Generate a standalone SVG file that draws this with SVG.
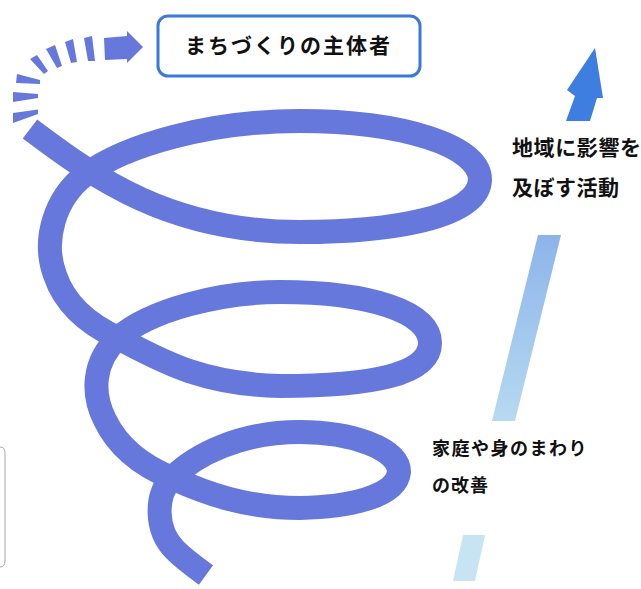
<svg xmlns="http://www.w3.org/2000/svg" width="641" height="589" viewBox="0 0 641 589">
  <defs>
    <style>
      .lbl { font-family: "Noto Sans CJK JP", "Noto Sans", sans-serif; font-weight: 700; fill: #111; }
      .coil { fill: none; stroke: #6678dc; stroke-width: 24; stroke-linecap: butt; stroke-linejoin: round; }
      .dash { fill: #6678dc; }
    </style>
    <linearGradient id="barGrad" x1="0" y1="0" x2="0" y2="1">
      <stop offset="0" stop-color="#8db4ea"/>
      <stop offset="1" stop-color="#b6daf1"/>
    </linearGradient>
  </defs>
  <rect width="641" height="589" fill="#ffffff"/>

  <path d="M0,447 Q5,447 5,453 V561 Q5,567 0,567" fill="none" stroke="#a8a8a8" stroke-width="1"/>

  <g id="connectors">
    <path id="spiral" class="coil" d="M30,129 C95,178 170,232 300,232 C390,232 478,218 480,180 C480,145 400,121 300,121 C210,121 125,145 85,175 C55,198 42,240 55,275 C65,305 90,325 118,338 C160,360 200,384 280,386 C370,386 430,375 430,343 C430,312 370,292 280,292 C220,292 150,310 118,338 C92,362 92,395 105,420 C117,445 140,465 172,478 C205,493 245,508 300,508 C345,507 396,498 399,472 C399,448 350,432 300,432 C240,432 195,455 172,478 C155,495 155,530 175,550 C185,560 195,567 206,575"/>
    <g id="dash-arc">
      <polygon class="dash" points="13,113 38,109.5 38,114 13,123"/>
      <polygon class="dash" points="13,92 38,94 38,98 13,102"/>
      <polygon class="dash" points="17,74 40,80 40,84 16,83"/>
      <polygon class="dash" points="30,59 37,55 48,71 44,74"/>
      <polygon class="dash" points="46,49 55,45 62,66 57,68"/>
      <polygon class="dash" points="65,42 73,39 77,62 71,63"/>
      <polygon class="dash" points="84,38 92,36 95,61 88,61"/>
      <polygon class="dash" points="104,38 127,36 127,31 143,47 127,63 127,59 105,60"/>
    </g>
    <g id="rise-arrow">
      <polygon fill="#c6e4f2" points="463,535 485,535 475,581 453,581"/>
      <polygon fill="url(#barGrad)" points="538,235 561,235 515,421 492,421"/>
      <polygon fill="#3d7ee0" points="595,48 603,98 597,98 590,121 566,121 575,96 567,90"/>
    </g>
  </g>

  <g id="node-title">
    <rect x="158" y="16" width="262" height="60" rx="10" ry="10" fill="#ffffff" stroke="#3b78dc" stroke-width="3"/>
    <text class="lbl" x="185" y="53" font-size="21" letter-spacing="2">まちづくりの主体者</text>
  </g>

  <g id="node-region">
    <text class="lbl" x="512" y="155" font-size="21" letter-spacing="0.6">地域に影響を</text>
    <text class="lbl" x="512" y="195" font-size="21" letter-spacing="0.5">及ぼす活動</text>
  </g>

  <g id="node-home">
    <text class="lbl" x="432" y="455" font-size="18" letter-spacing="1.5">家庭や身のまわり</text>
    <text class="lbl" x="432" y="492" font-size="18" letter-spacing="1">の改善</text>
  </g>
</svg>
